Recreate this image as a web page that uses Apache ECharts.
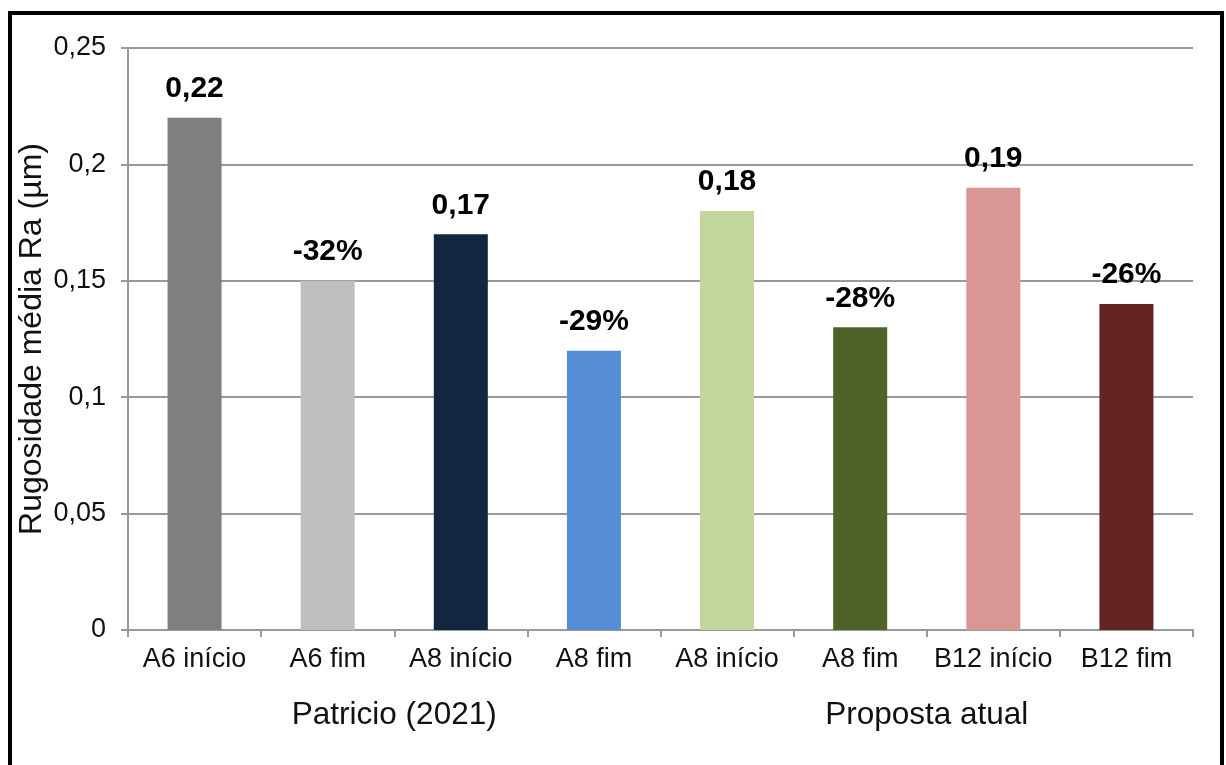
<!DOCTYPE html>
<html>
<head>
<meta charset="utf-8">
<script src="https://cdn.jsdelivr.net/npm/echarts@6/dist/echarts.min.js"></script>
<style>
  html, body { margin: 0; padding: 0; background: #fff; }
  #chart { width: 1226px; height: 765px; }
</style>
</head>
<body>
<div id="chart"></div>
<script>
// Average roughness Ra (µm) at start / end for each tool
const categories = ['A6 início', 'A6 fim', 'A8 início', 'A8 fim', 'A8 início', 'A8 fim', 'B12 início', 'B12 fim'];
const roughness = [0.22, 0.15, 0.17, 0.12, 0.18, 0.13, 0.19, 0.14];
const studyGroups = ['Patricio (2021)', 'Proposta atual'];
const yTicks = [0, 0.05, 0.1, 0.15, 0.2, 0.25];

const barColors = ['#7f7f7f', '#bfbfbf', '#13263f', '#558ed5', '#c3d69b', '#4f6228', '#d99694', '#632423'];
const FONT = '"Liberation Sans", Arial, sans-serif';

const fmtNum = v => String(+v.toFixed(2)).replace('.', ',');

// "início" bars show their value, "fim" bars show the change from the start
function barLabel(p) {
  const i = p.dataIndex;
  if (i % 2 === 0) return fmtNum(roughness[i]);
  const prev = roughness[i - 1];
  return Math.round((roughness[i] - prev) / prev * 100) + '%';
}

const chart = echarts.init(document.getElementById('chart'), null, { renderer: 'canvas' });

chart.setOption({
  backgroundColor: '#fff',
  animation: false,
  textStyle: { fontFamily: FONT },
  grid: { left: 128, right: 33, top: 48, bottom: 135, containLabel: false },
  xAxis: [
    {
      type: 'category',
      data: categories,
      axisLine: { lineStyle: { color: '#999', width: 2 } },
      axisTick: { show: true, length: 7, lineStyle: { color: '#999', width: 2 } },
      axisLabel: { color: '#111', fontSize: 27, fontFamily: FONT, margin: 16, interval: 0 }
    },
    {
      type: 'category',
      data: studyGroups,
      position: 'bottom',
      axisLine: { show: false },
      axisTick: { show: false },
      axisLabel: { color: '#111', fontSize: 31.5, fontFamily: FONT, margin: 69, interval: 0 },
      splitLine: { show: false }
    }
  ],
  yAxis: {
    type: 'value',
    min: yTicks[0],
    max: yTicks[yTicks.length - 1],
    interval: yTicks[1] - yTicks[0],
    name: 'Rugosidade média Ra (µm)',
    nameLocation: 'middle',
    nameRotate: 90,
    nameGap: 80,
    nameMoveOverlap: false,
    nameTextStyle: { color: '#111', fontSize: 32, fontFamily: FONT },
    axisLine: { show: true, lineStyle: { color: '#999', width: 2 } },
    axisTick: { show: true, length: 7, lineStyle: { color: '#999', width: 2 } },
    axisLabel: { color: '#111', fontSize: 27, fontFamily: FONT, margin: 22, formatter: fmtNum },
    splitLine: { show: true, lineStyle: { color: '#999', width: 2 } }
  },
  series: [{
    type: 'bar',
    xAxisIndex: 0,
    data: roughness.map((v, i) => ({ value: v, itemStyle: { color: barColors[i] } })),
    barWidth: 54,
    label: {
      show: true,
      position: 'top',
      distance: 14,
      color: '#000',
      fontSize: 30,
      fontWeight: 'bold',
      fontFamily: FONT,
      formatter: barLabel
    }
  }],
  graphic: [{
    type: 'rect',
    shape: { x: 10, y: 13, width: 1212, height: 800 },
    style: { fill: null, stroke: '#000', lineWidth: 4 },
    silent: true,
    z: 100
  }]
});
</script>
</body>
</html>
